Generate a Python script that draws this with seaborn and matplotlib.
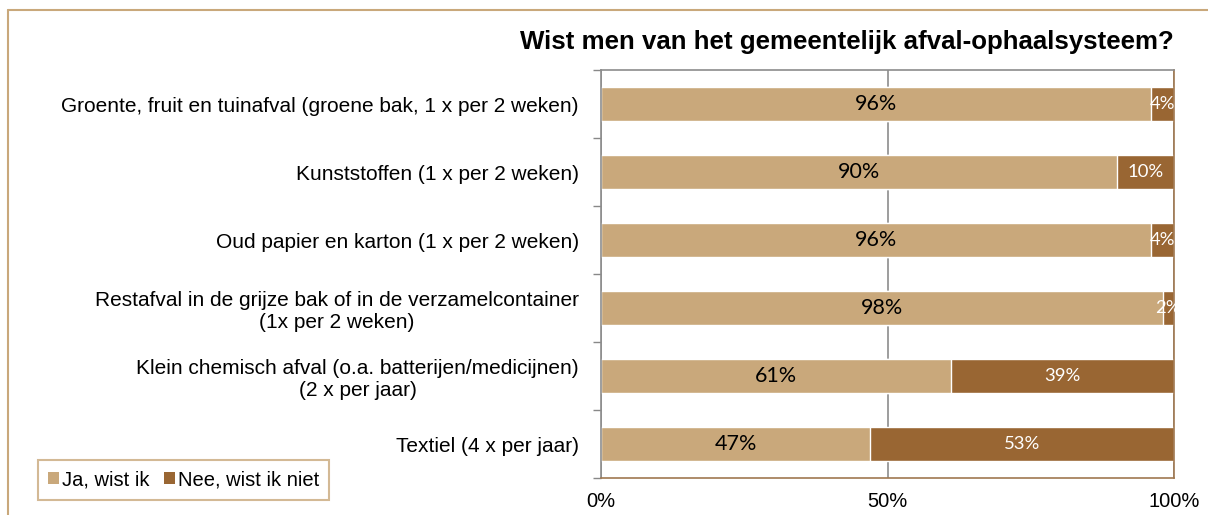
import matplotlib
matplotlib.use("Agg")
import matplotlib.pyplot as plt
import seaborn as sns
import pandas as pd
from matplotlib.lines import Line2D
from matplotlib.patches import Patch

sns.set_theme(style="white")
plt.rcParams['font.family'] = ['Liberation Sans', 'DejaVu Sans']
plt.rcParams['text.color'] = 'black'
plt.rcParams['xtick.color'] = 'black'
plt.rcParams['ytick.color'] = 'black'

# data
categories = [
    "Groente, fruit en tuinafval (groene bak, 1 x per 2 weken)",
    "Kunststoffen (1 x per 2 weken)",
    "Oud papier en karton (1 x per 2 weken)",
    "Restafval in de grijze bak of in de verzamelcontainer\n(1x per 2 weken)",
    "Klein chemisch afval (o.a. batterijen/medicijnen)\n(2 x per jaar)",
    "Textiel (4 x per jaar)",
]
ja = [96, 90, 96, 98, 61, 47]
nee = [4, 10, 4, 2, 39, 53]
series = ["Ja, wist ik", "Nee, wist ik niet"]
xticks = [0, 50, 100]
xticklabels = ["0%", "50%", "100%"]

light = "#C9A87B"
dark = "#996633"

df = pd.DataFrame({"cat": categories, "ja": ja, "nee": nee})
df["total"] = df["ja"] + df["nee"]

fig = plt.figure(figsize=(12.08, 5.15), dpi=100)
ax = fig.add_axes([0.4975, 0.0718, 0.4744, 0.7922])

sns.barplot(data=df, y="cat", x="total", color=dark, saturation=1, width=0.49, ax=ax, orient="h")
sns.barplot(data=df, y="cat", x="ja", color=light, saturation=1, width=0.49, ax=ax, orient="h")

ax.set_xlim(0, 100)
ax.set_ylim(len(categories) - 0.5, -0.5)
ax.set_xlabel("")
ax.set_ylabel("")
ax.set_xticks(xticks)
ax.set_xticklabels(xticklabels, fontsize=14.5)
ax.tick_params(axis="x", length=0, pad=10)
ax.set_yticks(range(len(categories)))
ax.set_yticklabels(categories, fontsize=15, multialignment="center")
ax.tick_params(axis="y", which="major", length=0, pad=16)
ax.set_yticks([i - 0.5 for i in range(len(categories) + 1)], minor=True)
ax.tick_params(axis="y", which="minor", length=6, width=1, color="#888888", direction="out", left=True)

for x in xticks:
    ax.axvline(x, color="#8c8c8c", lw=1.2, zorder=0)

for s in ["left", "top"]:
    ax.spines[s].set_color("#8c8c8c")
for s in ["right", "bottom"]:
    ax.spines[s].set_color("#A07850")
for s in ax.spines.values():
    s.set_linewidth(1.2)

for i in range(len(categories)):
    ax.text(ja[i] / 2, i, f"{ja[i]}%", ha="center", va="center", fontsize=15.5,
            color="black", family=["Lato", "DejaVu Sans"])
    ax.text(ja[i] + nee[i] / 2, i, f"{nee[i]}%", ha="center", va="center", fontsize=13.3,
            color="white", family=["Lato", "DejaVu Sans"])

fig.text(0.701, 0.918, "Wist men van het gemeentelijk afval-ophaalsysteem?",
         ha="center", va="center", fontsize=18.6, fontweight="bold")

handles = [Patch(facecolor=light, edgecolor="none"), Patch(facecolor=dark, edgecolor="none")]
leg = fig.legend(handles, series, loc="center", bbox_to_anchor=(0.152, 0.068), ncol=2,
                 fontsize=14.5, frameon=True, fancybox=False, handlelength=0.55, handleheight=0.55,
                 handletextpad=0.15, columnspacing=0.7, borderpad=0.5, borderaxespad=0)
leg.get_frame().set_edgecolor(light)
leg.get_frame().set_linewidth(1.5)

# outer chart frame
fig.add_artist(Line2D([8 / 1208, 8 / 1208], [0, 1 - 10 / 515], color=light, lw=1.5))
fig.add_artist(Line2D([8 / 1208, 1], [1 - 10 / 515, 1 - 10 / 515], color=light, lw=1.5))

fig.savefig("out.png", dpi=100)
